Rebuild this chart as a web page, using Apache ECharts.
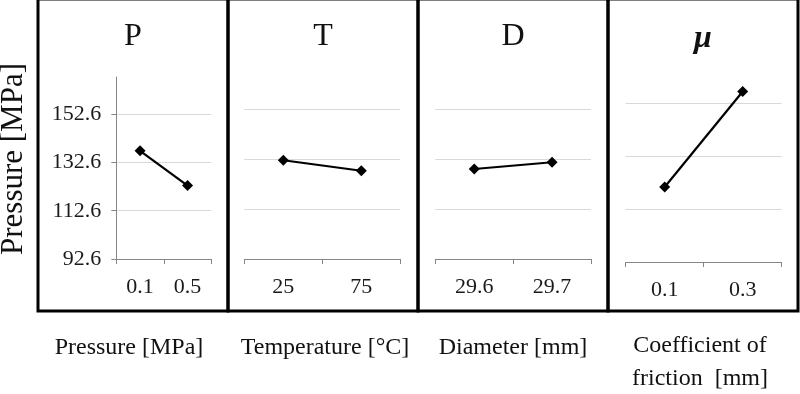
<!DOCTYPE html>
<html>
<head>
<meta charset="utf-8">
<script src="https://cdn.jsdelivr.net/npm/echarts@6/dist/echarts.min.js"></script>
<style>
html,body{margin:0;padding:0;background:#fff;}
#c{width:800px;height:394px;}
</style>
</head>
<body>
<div id="c"></div>
<script>
// ---- data ----
const panelTitles = ['P', 'T', 'D', 'μ'];
const factorNames = ['Pressure [MPa]', 'Temperature [°C]', 'Diameter [mm]', 'Coefficient of\nfriction  [mm]'];
const pLevels = ['0.1', '0.5'];
const tLevels = ['25', '75'];
const dLevels = ['29.6', '29.7'];
const muLevels = ['0.1', '0.3'];
const pValues = [137.4, 123.0];
const tValues = [132.1, 127.9];
const dValues = [128.6, 131.3];
const muValues = [120.9, 156.9];
const yMin = 92.6;
const yMax = 168;
const yStep = 20;
const yTitle = 'Pressure [MPa]';

// ---- layout ----
const levels = [pLevels, tLevels, dLevels, muLevels];
const values = [pValues, tValues, dValues, muValues];
const grids = [
  {left: 116.3, width: 95, top: 77, bottom: 135},
  {left: 244.3, width: 156, top: 70.5, bottom: 135},
  {left: 435.3, width: 155.7, top: 70.5, bottom: 135},
  {left: 625.7, width: 156, top: 62, bottom: 132}
];
const boxes = [[38, 228], [228, 418], [418, 608], [608, 798]];
const nameCenters = [129, 325, 513, 700];
const serif = '"Liberation Serif", "DejaVu Serif", serif';

const chart = echarts.init(document.getElementById('c'), null, {renderer: 'canvas'});

const xAxes = [], yAxes = [], series = [], graphics = [];
for (let i = 0; i < 4; i++) {
  xAxes.push({
    gridIndex: i, type: 'category', data: levels[i], boundaryGap: true,
    axisLine: {lineStyle: {color: '#868686', width: 1}},
    axisTick: {show: true, length: 5, lineStyle: {color: '#868686'}},
    axisLabel: {fontFamily: serif, fontSize: 22, color: '#1a1a1a', margin: 17}
  });
  yAxes.push({
    gridIndex: i, type: 'value', min: yMin, max: yMax, interval: yStep,
    axisLine: {show: i === 0, lineStyle: {color: '#868686', width: 1}},
    axisTick: {show: i === 0, length: 5, lineStyle: {color: '#868686'}},
    axisLabel: {show: i === 0, showMaxLabel: false, fontFamily: serif, fontSize: 22, color: '#1a1a1a', margin: 15,
      formatter: v => v.toFixed(1)},
    splitLine: {show: true, showMinLine: false, showMaxLine: false, lineStyle: {color: '#d9d9d9', width: 1}}
  });
  series.push({
    type: 'line', xAxisIndex: i, yAxisIndex: i, data: values[i],
    symbol: 'diamond', symbolSize: 11,
    lineStyle: {color: '#000', width: 2.2},
    itemStyle: {color: '#000'},
    animation: false
  });
  const [x0, x1] = boxes[i];
  graphics.push({
    type: 'rect', shape: {x: x0, y: -1, width: x1 - x0, height: 312},
    style: {fill: 'none', stroke: '#000', lineWidth: 3}, z: 10
  });
  graphics.push({
    type: 'text', x: (x0 + x1) / 2, y: i === 3 ? 39 : 37,
    style: {text: panelTitles[i], align: 'center', verticalAlign: 'middle',
      font: (i === 3 ? 'italic bold 32px ' : '32px ') + serif, fill: '#111'}
  });
  graphics.push({
    type: 'text', x: nameCenters[i], y: i === 3 ? 362 : 348,
    style: {text: factorNames[i], align: 'center', verticalAlign: 'middle',
      font: '24px ' + serif, fill: '#111', lineHeight: 33}
  });
}
graphics.push({
  type: 'text', x: 14, y: 159, rotation: Math.PI / 2,
  style: {text: yTitle, align: 'center', verticalAlign: 'middle', font: '31px ' + serif, fill: '#111'}
});

chart.setOption({
  animation: false,
  backgroundColor: '#fff',
  grid: grids,
  xAxis: xAxes,
  yAxis: yAxes,
  series: series,
  graphic: graphics
});
</script>
</body>
</html>
